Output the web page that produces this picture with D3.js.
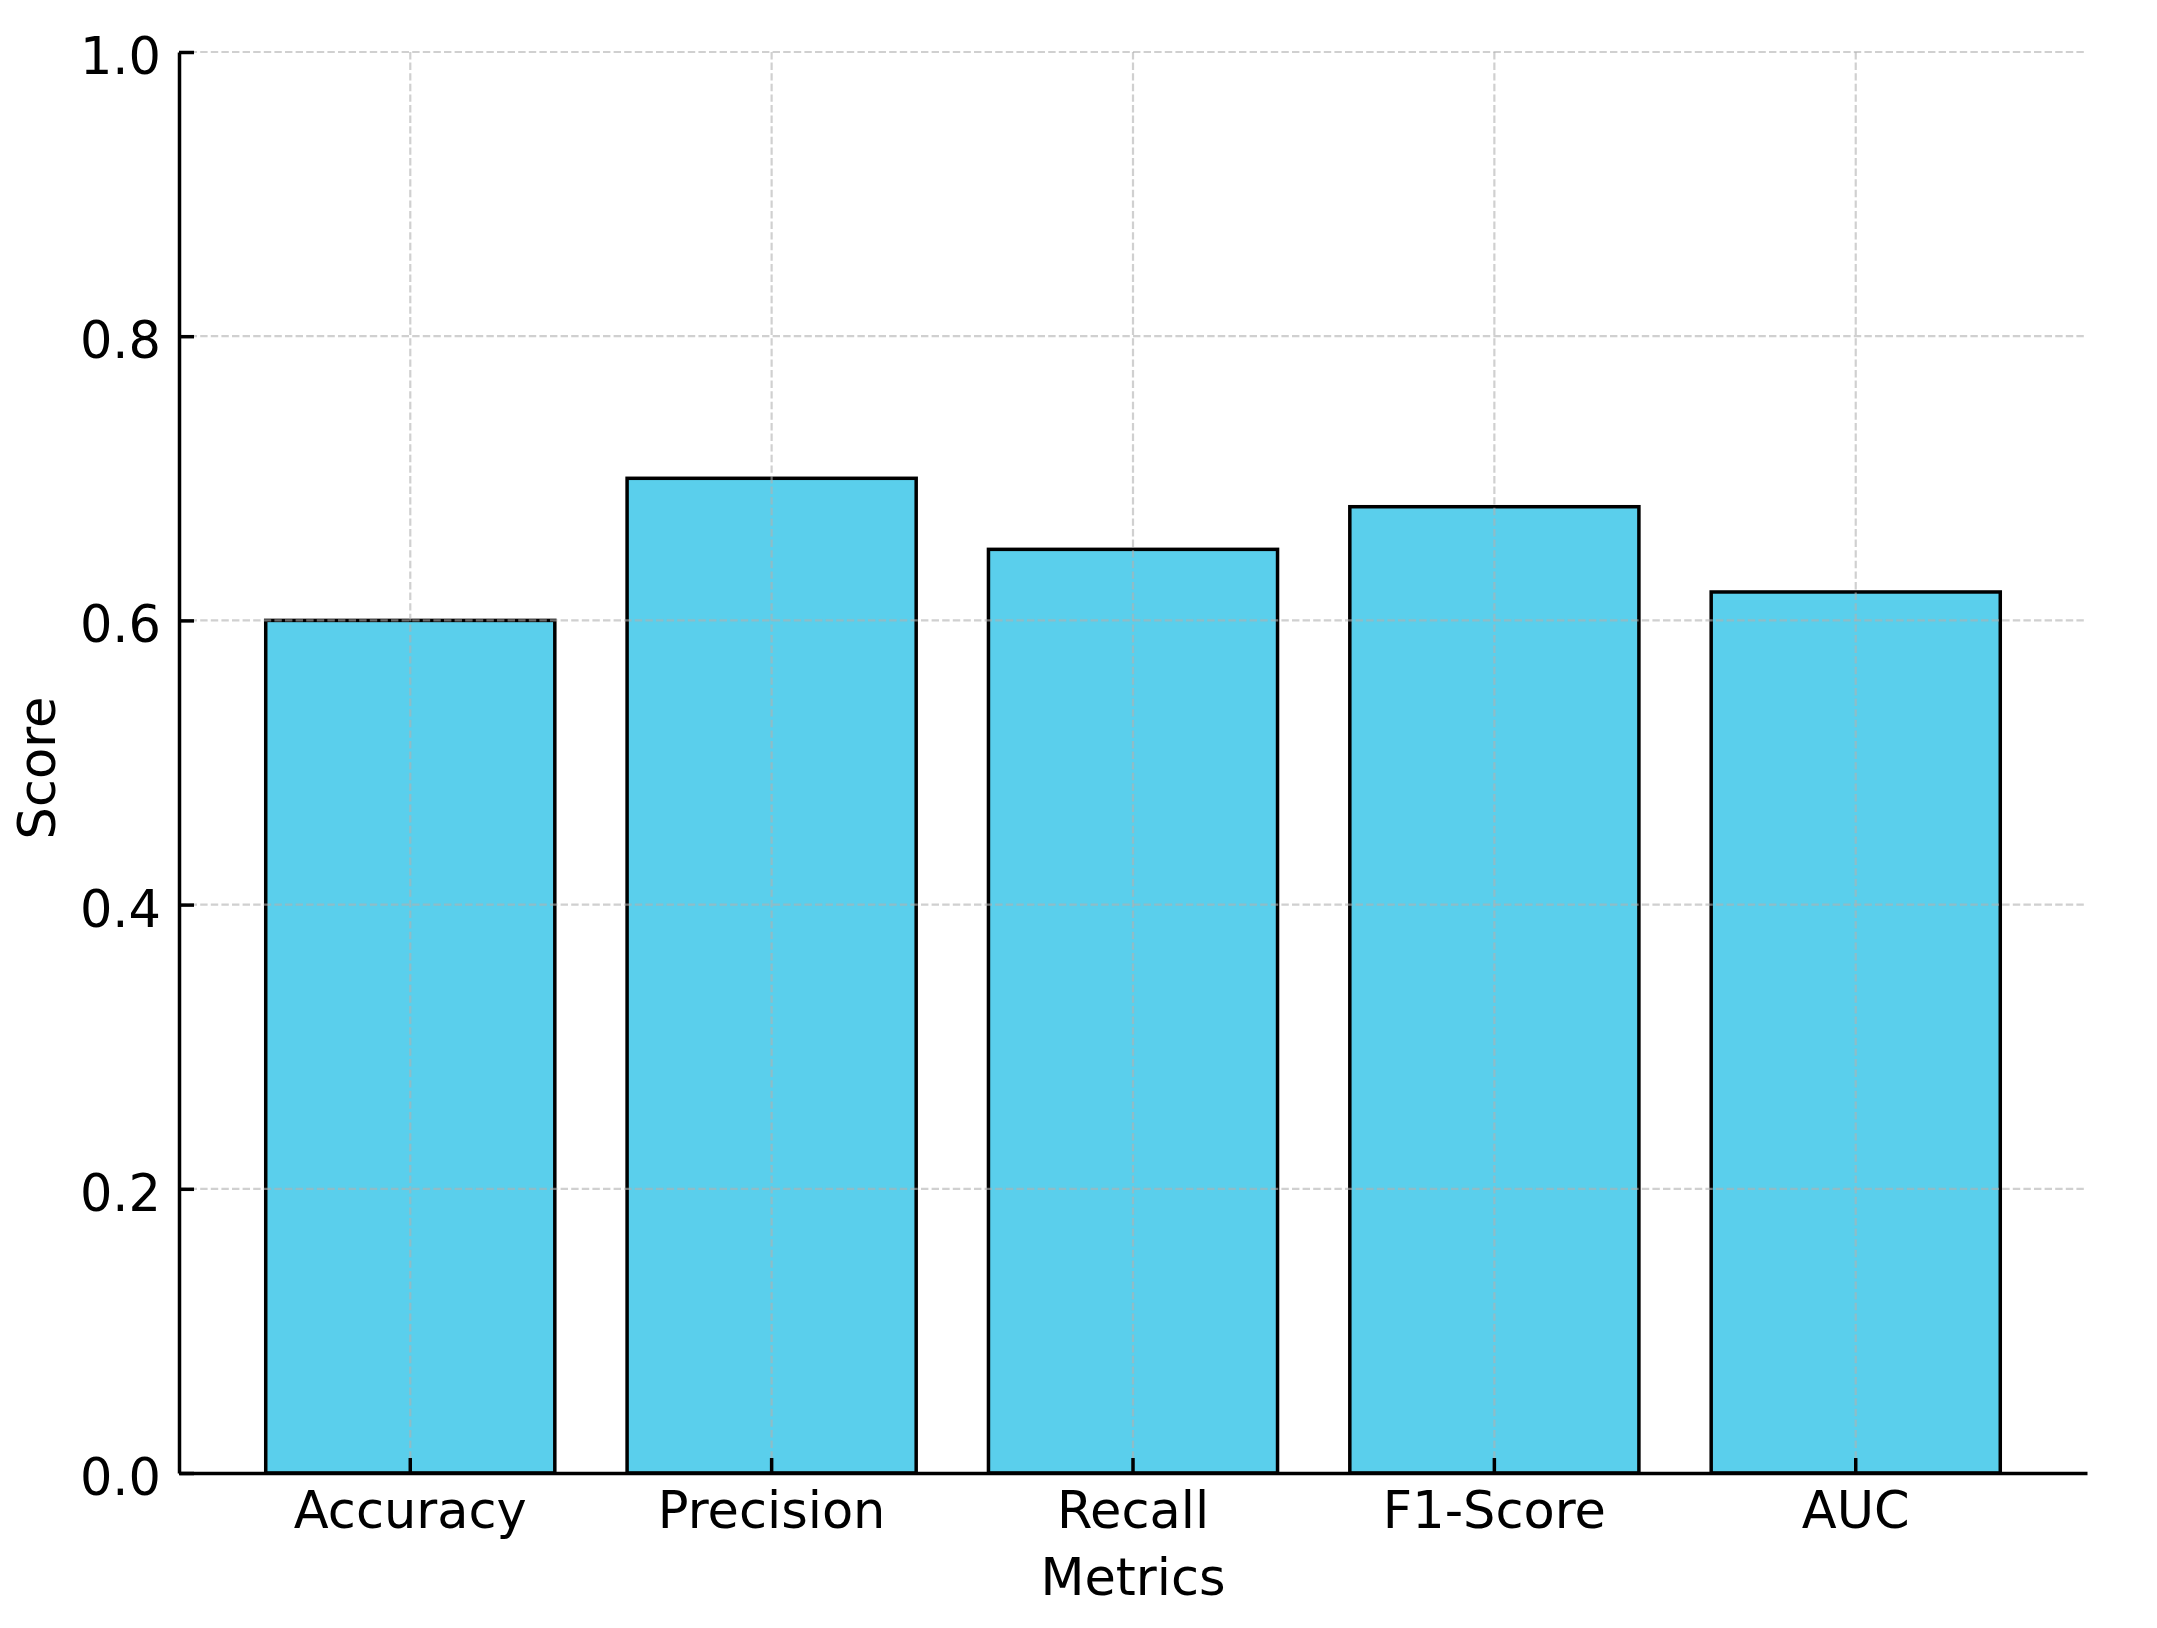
<!DOCTYPE html>
<html><head><meta charset="utf-8">
<script src="https://cdn.jsdelivr.net/npm/d3@7"></script>
<style>html,body{margin:0;padding:0;background:#fff;}</style>
</head><body>
<svg id="chart" width="2157" height="1628"></svg>
<script>
const categories = ["Accuracy", "Precision", "Recall", "F1-Score", "AUC"];
const scores = [0.60, 0.70, 0.65, 0.68, 0.62];
const yTicks = [0.0, 0.2, 0.4, 0.6, 0.8, 1.0];
const xLabel = "Metrics";
const yLabel = "Score";

const L = 179, R = 2087, T = 52, B = 1473;
const font = "'DejaVu Sans', sans-serif";
const svg = d3.select("#chart");

const x = d3.scaleBand().domain(categories).range([L, R]).paddingInner(0.2).paddingOuter(0.24);
const y = d3.scaleLinear().domain([0, 1]).range([B, T]);

// bars
svg.append("g").selectAll("rect").data(categories).join("rect")
  .attr("x", d => x(d))
  .attr("y", (d, i) => y(scores[i]))
  .attr("width", x.bandwidth())
  .attr("height", (d, i) => y(0) - y(scores[i]))
  .attr("fill", "#5acfec")
  .attr("stroke", "#000")
  .attr("stroke-width", 3.5);

// grid
const grid = svg.append("g").attr("stroke", "#b0b0b0").attr("stroke-opacity", 0.6)
  .attr("stroke-width", 2.2).attr("stroke-dasharray", "7.4,3.2");
grid.selectAll("line.h").data(yTicks).join("line").attr("class", "h")
  .attr("x1", L).attr("x2", R).attr("y1", d => y(d)).attr("y2", d => y(d));
grid.selectAll("line.v").data(categories).join("line").attr("class", "v")
  .attr("x1", d => x(d) + x.bandwidth() / 2).attr("x2", d => x(d) + x.bandwidth() / 2)
  .attr("y1", T).attr("y2", B);

// axes
const yAxis = d3.axisLeft(y).tickValues(yTicks).tickFormat(d3.format(".1f"))
  .tickSizeInner(-15).tickSizeOuter(0).tickPadding(19);
const gy = svg.append("g").attr("transform", `translate(${L},0)`).call(yAxis);
const xAxis = d3.axisBottom(x).tickSizeInner(-15).tickSizeOuter(0).tickPadding(19);
const gx = svg.append("g").attr("transform", `translate(0,${B})`).call(xAxis);

[gy, gx].forEach(g => {
  g.select(".domain").attr("stroke", "#000").attr("stroke-width", 3.5);
  g.selectAll(".tick line").attr("stroke", "#000").attr("stroke-width", 3.5);
  g.selectAll(".tick text").attr("fill", "#000").style("font-family", font).style("font-size", "51px");
});
gy.selectAll(".tick text").attr("x", -18).attr("dy", "0.42em");
gx.selectAll(".tick text").attr("y", 0).attr("dy", 0).attr("transform", "translate(0,55)");

// axis labels
svg.append("text").attr("x", (L + R) / 2).attr("y", 1595).attr("text-anchor", "middle")
  .style("font-family", font).style("font-size", "51px").attr("fill", "#000").text(xLabel);
svg.append("text").attr("transform", `translate(55,768) rotate(-90)`).attr("text-anchor", "middle")
  .style("font-family", font).style("font-size", "51px").attr("fill", "#000").text(yLabel);
</script>
</body></html>
